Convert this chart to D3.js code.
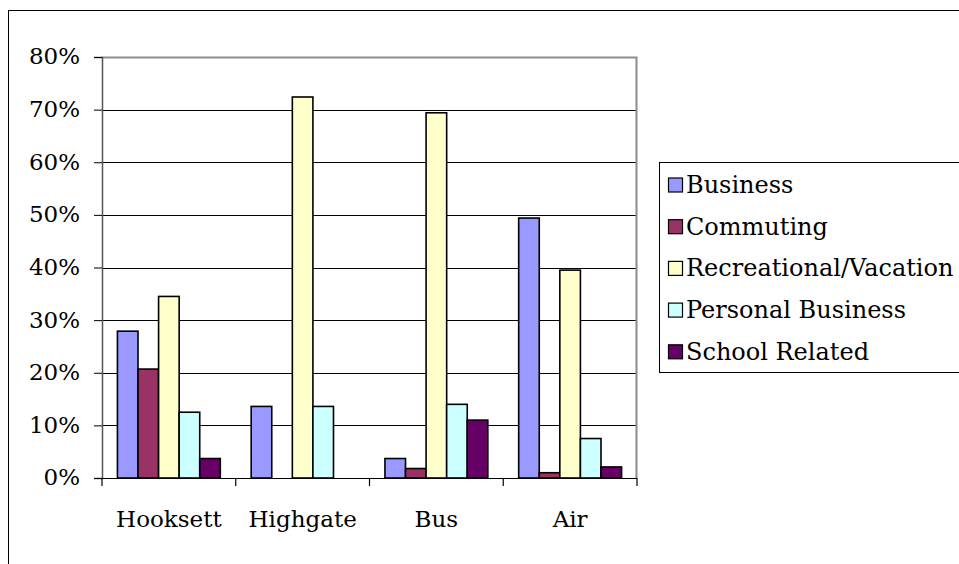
<!DOCTYPE html>
<html>
<head>
<meta charset="utf-8">
<script src="https://cdn.jsdelivr.net/npm/d3@7"></script>
<style>
  html, body { margin: 0; padding: 0; background: #fff; }
  svg { display: block; }
  text { font-family: "DejaVu Serif", "Liberation Serif", serif; fill: #000; }
</style>
</head>
<body>
<svg id="chart" width="959" height="564"></svg>
<script>
const categories = ["Hooksett", "Highgate", "Bus", "Air"];
const seriesNames = ["Business", "Commuting", "Recreational/Vacation", "Personal Business", "School Related"];
const seriesColors = ["#9999FF", "#993366", "#FFFFCC", "#CCFFFF", "#660066"];
const business     = [27.9, 13.6, 3.7, 49.4];
const commuting    = [20.7, 0, 1.8, 1.0];
const recreational = [34.5, 72.4, 69.4, 39.5];
const personal     = [12.5, 13.6, 14.0, 7.5];
const school       = [3.7, 0, 11.0, 2.1];
const seriesValues = [business, commuting, recreational, personal, school];
const yTicks = [0, 10, 20, 30, 40, 50, 60, 70, 80];

const svg = d3.select("#chart");
const fontSize = 23;
const legendFontSize = 24;

// outer chart border (extends past right/bottom edges)
svg.append("rect")
  .attr("x", 8.5).attr("y", 10.5)
  .attr("width", 1000).attr("height", 600)
  .attr("fill", "none").attr("stroke", "#000").attr("stroke-width", 1);

const plot = { left: 102, right: 637, top: 57, bottom: 478 };

const x = d3.scaleBand().domain(categories).range([plot.left, plot.right]).paddingInner(0).paddingOuter(0);
const xs = d3.scaleBand().domain(d3.range(seriesNames.length)).range([0, x.bandwidth()]).paddingInner(0).paddingOuter(0.75);
const y = d3.scaleLinear().domain([0, 80]).range([plot.bottom, plot.top]);

// gridlines
svg.append("g").selectAll("line")
  .data(yTicks.filter(t => t > 0 && t < 80))
  .join("line")
  .attr("x1", plot.left).attr("x2", plot.right)
  .attr("y1", d => Math.round(y(d)) + 0.5).attr("y2", d => Math.round(y(d)) + 0.5)
  .attr("stroke", "#000").attr("stroke-width", 1);

// plot border top & right (gray)
svg.append("path")
  .attr("d", `M${plot.left},${plot.top + 0.5} H${plot.right - 0.5} V${plot.bottom}`)
  .attr("fill", "none").attr("stroke", "#8c8c8c").attr("stroke-width", 2);

// bars
const groups = svg.append("g").selectAll("g")
  .data(categories)
  .join("g")
  .attr("transform", d => `translate(${x(d)},0)`);

groups.selectAll("rect")
  .data((c, ci) => seriesValues.map((vals, si) => ({ si, v: vals[ci] })))
  .join("rect")
  .filter(d => d.v > 0)
  .attr("x", d => xs(d.si))
  .attr("width", xs.bandwidth())
  .attr("y", d => y(d.v))
  .attr("height", d => y(0) - y(d.v))
  .attr("fill", d => seriesColors[d.si])
  .attr("stroke", "#000")
  .attr("stroke-width", 1.6);

// y axis
const yAxis = d3.axisLeft(y).tickValues(yTicks).tickFormat(d => d + "%").tickSize(8).tickPadding(14);
const gy = svg.append("g").attr("transform", `translate(${plot.left},0)`).call(yAxis);
gy.select(".domain").attr("stroke", "#555").attr("stroke-width", 1.5);
gy.selectAll(".tick line").attr("stroke", "#000");
gy.selectAll(".tick text").style("font-family", '"DejaVu Serif", serif').attr("font-size", fontSize).attr("fill", "#000").attr("dy", "0.3em");

// x axis
const tickPositions = [plot.left, ...categories.map(c => x(c) + x.bandwidth())];
const gx = svg.append("g");
gx.append("line")
  .attr("x1", plot.left).attr("x2", plot.right)
  .attr("y1", plot.bottom + 0.5).attr("y2", plot.bottom + 0.5)
  .attr("stroke", "#000").attr("stroke-width", 1.2);
gx.selectAll("line.t").data(tickPositions).join("line").attr("class", "t")
  .attr("x1", d => d).attr("x2", d => d)
  .attr("y1", plot.bottom).attr("y2", plot.bottom + 8)
  .attr("stroke", "#000").attr("stroke-width", 1.2);
gx.selectAll("text").data(categories).join("text")
  .attr("x", d => x(d) + x.bandwidth() / 2)
  .attr("y", 527)
  .attr("text-anchor", "middle")
  .attr("font-size", fontSize)
  .text(d => d);

// legend
const leg = svg.append("g");
leg.append("rect")
  .attr("x", 659.5).attr("y", 162.5)
  .attr("width", 400).attr("height", 210)
  .attr("fill", "#fff").attr("stroke", "#000").attr("stroke-width", 1);
const items = leg.selectAll("g.item").data(seriesNames).join("g").attr("class", "item")
  .attr("transform", (d, i) => `translate(0,${185 + i * 41.7})`);
items.append("rect")
  .attr("x", 668.5).attr("y", -7)
  .attr("width", 14).attr("height", 14)
  .attr("fill", (d, i) => seriesColors[i])
  .attr("stroke", "#000").attr("stroke-width", 1.2);
items.append("text")
  .attr("x", 686).attr("y", 8)
  .attr("font-size", legendFontSize)
  .text(d => d);
</script>
</body>
</html>
